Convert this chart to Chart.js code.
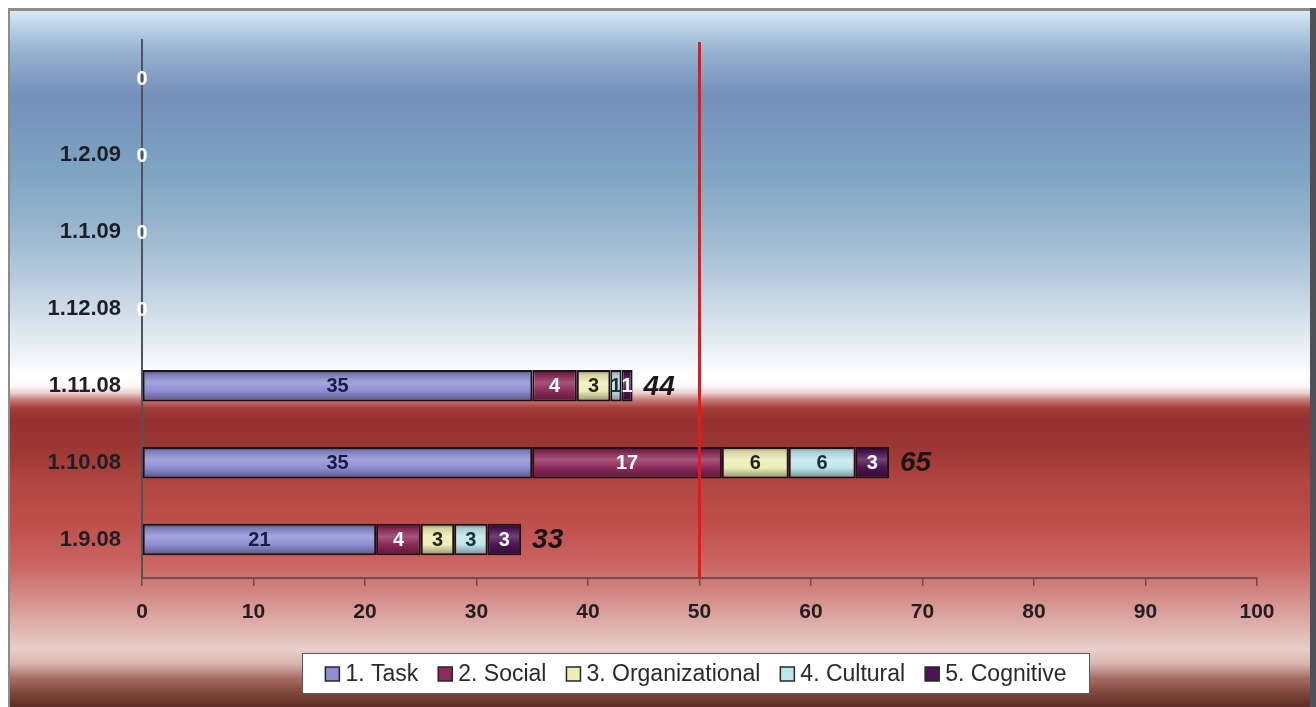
<!DOCTYPE html>
<html>
<head>
<meta charset="utf-8">
<script src="https://cdn.jsdelivr.net/npm/chart.js@4.4.1/dist/chart.umd.min.js"></script>
<style>
  html, body { margin: 0; padding: 0; background: #ffffff; }
  #wrap { width: 1316px; height: 707px; }
  canvas { display: block; }
</style>
</head>
<body>
<div id="wrap"><canvas id="chart" width="1316" height="707"></canvas></div>
<script>
// ---- data ----
const categories = ['', '1.2.09', '1.1.09', '1.12.08', '1.11.08', '1.10.08', '1.9.08'];
const seriesNames = ['1. Task', '2. Social', '3. Organizational', '4. Cultural', '5. Cognitive'];
const taskValues = [0, 0, 0, 0, 35, 35, 21];
const socialValues = [0, 0, 0, 0, 4, 17, 4];
const organizationalValues = [0, 0, 0, 0, 3, 6, 3];
const culturalValues = [0, 0, 0, 0, 1, 6, 3];
const cognitiveValues = [0, 0, 0, 0, 1, 3, 3];
const totalLabels = [null, null, null, null, 44, 65, 33];
const xTickValues = [0, 10, 20, 30, 40, 50, 60, 70, 80, 90, 100];
const thresholdValue = 50;

// ---- styling ----
const FONT = '"Liberation Sans", Arial, Helvetica, sans-serif';
const seriesColors = ['#8e8ed4', '#8e2a5a', '#eeeeb6', '#bee6ec', '#4c1454'];
const labelColors = ['#1a1a44', '#ffffff', '#262616', '#1a3036', '#ffffff'];
const BAR_PCT = 0.41;

function hexToRgb(h) {
  const n = parseInt(h.slice(1), 16);
  return [(n >> 16) & 255, (n >> 8) & 255, n & 255];
}
function shade(hex, amt) {
  const [r, g, b] = hexToRgb(hex);
  const t = amt < 0 ? 0 : 255, p = Math.abs(amt);
  const f = v => Math.round(v + (t - v) * p);
  return `rgb(${f(r)},${f(g)},${f(b)})`;
}

// glossy vertical shading for each bar segment
function barFill(c, base) {
  const chart = c.chart;
  const yScale = chart.scales && chart.scales.y;
  if (c.type !== 'data' || !chart.chartArea || !yScale) return base;
  const cy = yScale.getPixelForValue(c.dataIndex);
  const half = (yScale.height / categories.length) * BAR_PCT / 2;
  const g = chart.ctx.createLinearGradient(0, cy - half, 0, cy + half);
  g.addColorStop(0, shade(base, -0.5));
  g.addColorStop(0.14, shade(base, -0.12));
  g.addColorStop(0.4, shade(base, 0.2));
  g.addColorStop(0.66, base);
  g.addColorStop(1, shade(base, -0.4));
  return g;
}

// panel background: blue sky fading to white, then deep red fading to pink and brown
const bgStops = [
  [10, '#dde9f6'], [30, '#b6cde3'], [55, '#93afcf'], [95, '#7590b9'], [125, '#7897bd'],
  [175, '#80a5c3'], [225, '#96b5cd'], [275, '#b6cadc'], [320, '#d5e1eb'], [355, '#eff4f8'],
  [375, '#ffffff'], [386, '#fdf8f8'], [393, '#ecd0ce'], [400, '#c77a76'], [408, '#a43e3a'],
  [420, '#943030'], [445, '#9a3632'], [485, '#b24642'], [525, '#c04f4b'], [565, '#ca6662'],
  [600, '#d5908c'], [630, '#e0b6b2'], [650, '#e8cecb'], [664, '#d8b4ae'], [678, '#a66e66'],
  [694, '#7c4438'], [707, '#5c2e26']
];

const backgroundPlugin = {
  id: 'panelBackground',
  beforeDraw(chart) {
    const ctx = chart.ctx;
    ctx.save();
    ctx.fillStyle = '#ffffff';
    ctx.fillRect(0, 0, chart.width, chart.height);
    const top = 10, bottom = 707;
    const g = ctx.createLinearGradient(0, top, 0, bottom);
    bgStops.forEach(([y, col]) => g.addColorStop((y - top) / (bottom - top), col));
    ctx.fillStyle = g;
    ctx.fillRect(10, top, 1301, bottom - top);
    // frame
    ctx.fillStyle = '#8c8c8c';
    ctx.fillRect(8, 8, 1304, 3);
    ctx.fillRect(8, 8, 2, 699);
    ctx.fillStyle = '#4e5258';
    ctx.fillRect(1310, 8, 6, 699);
    ctx.restore();
  }
};

const overlayPlugin = {
  id: 'overlays',
  afterDatasetsDraw(chart) {
    const ctx = chart.ctx;
    const xs = chart.scales.x;
    const area = chart.chartArea;
    ctx.save();
    // threshold line
    const tx = xs.getPixelForValue(thresholdValue);
    ctx.strokeStyle = '#e41a1a';
    ctx.lineWidth = 3;
    ctx.beginPath();
    ctx.moveTo(tx, area.top + 2);
    ctx.lineTo(tx, area.bottom);
    ctx.stroke();

    // segment value labels
    const segFont = `bold 20px ${FONT}`;
    ctx.textAlign = 'center';
    ctx.textBaseline = 'middle';
    ctx.font = segFont;
    const nSeries = chart.data.datasets.length;
    categories.forEach((cat, i) => {
      const stackSum = chart.data.datasets.reduce((s, d) => s + d.data[i], 0);
      if (stackSum === 0) {
        const el = chart.getDatasetMeta(nSeries - 1).data[i];
        ctx.fillStyle = labelColors[nSeries - 1];
        ctx.fillText('0', xs.getPixelForValue(0), el.y + 1);
        return;
      }
      chart.data.datasets.forEach((ds, di) => {
        const v = ds.data[i];
        if (!v) return;
        const el = chart.getDatasetMeta(di).data[i];
        ctx.fillStyle = labelColors[di];
        ctx.fillText(String(v), (el.x + el.base) / 2, el.y + 1);
      });
      if (totalLabels[i] != null) {
        const lastEl = chart.getDatasetMeta(nSeries - 1).data[i];
        ctx.textAlign = 'left';
        ctx.font = `italic bold 28px ${FONT}`;
        ctx.fillStyle = '#1a1416';
        ctx.fillText(String(totalLabels[i]), xs.getPixelForValue(stackSum) + 11, lastEl.y + 1);
        ctx.textAlign = 'center';
        ctx.font = segFont;
      }
    });
    ctx.restore();
  },
  afterDraw(chart) {
    // legend panel
    const ctx = chart.ctx;
    ctx.save();
    const bx = 302, by = 653, bw = 788, bh = 41;
    ctx.fillStyle = '#ffffff';
    ctx.fillRect(bx, by, bw, bh);
    ctx.strokeStyle = '#5a5a5a';
    ctx.lineWidth = 1;
    ctx.strokeRect(bx + 0.5, by + 0.5, bw - 1, bh - 1);
    ctx.font = `23px ${FONT}`;
    ctx.textBaseline = 'middle';
    ctx.textAlign = 'left';
    const sq = 14, sqGap = 6, itemGap = 20;
    const widths = seriesNames.map(n => ctx.measureText(n).width);
    const total = widths.reduce((s, w) => s + w + sq + sqGap, 0) + itemGap * (seriesNames.length - 1);
    let x = bx + bw / 2 - total / 2;
    const cy = by + bh / 2 + 0.5;
    seriesNames.forEach((name, i) => {
      ctx.fillStyle = seriesColors[i];
      ctx.fillRect(x, cy - sq / 2, sq, sq);
      ctx.strokeStyle = '#26262a';
      ctx.lineWidth = 1.5;
      ctx.strokeRect(x, cy - sq / 2, sq, sq);
      ctx.fillStyle = '#2a2a2a';
      ctx.fillText(name, x + sq + sqGap, cy + 1);
      x += sq + sqGap + widths[i] + itemGap;
    });
    ctx.restore();
  }
};

const seriesValues = [taskValues, socialValues, organizationalValues, culturalValues, cognitiveValues];

Chart.defaults.font.family = FONT;

new Chart(document.getElementById('chart'), {
  type: 'bar',
  data: {
    labels: categories,
    datasets: seriesValues.map((vals, i) => ({
      label: seriesNames[i],
      data: vals,
      backgroundColor: c => barFill(c, seriesColors[i]),
      borderColor: '#1e1218',
      borderWidth: 2,
      borderSkipped: false,
      barPercentage: BAR_PCT,
      categoryPercentage: 1
    }))
  },
  options: {
    indexAxis: 'y',
    responsive: false,
    animation: false,
    devicePixelRatio: 1,
    layout: { padding: { top: 40, right: 59, left: 0, bottom: 0 } },
    plugins: { legend: { display: false }, tooltip: { enabled: false } },
    scales: {
      x: {
        stacked: true,
        min: 0,
        max: 100,
        afterBuildTicks: s => { s.ticks = xTickValues.map(v => ({ value: v })); },
        ticks: { font: { size: 21, weight: 'bold' }, color: '#241c20', padding: 14, autoSkip: false, maxRotation: 0 },
        grid: { display: true, drawOnChartArea: false, drawTicks: true, tickLength: 8, color: '#6e4a4a', lineWidth: 1.5 },
        border: { display: true, color: '#6e4a4a', width: 2 },
        afterFit: s => { s.height = 129; }
      },
      y: {
        stacked: true,
        ticks: { font: { size: 22, weight: 'bold' }, color: '#1e1e26', padding: 21 },
        grid: { display: false, drawTicks: false },
        border: { display: true, color: '#4c5460', width: 2 },
        afterFit: s => { s.width = 142; }
      }
    }
  },
  plugins: [backgroundPlugin, overlayPlugin]
});
</script>
</body>
</html>
